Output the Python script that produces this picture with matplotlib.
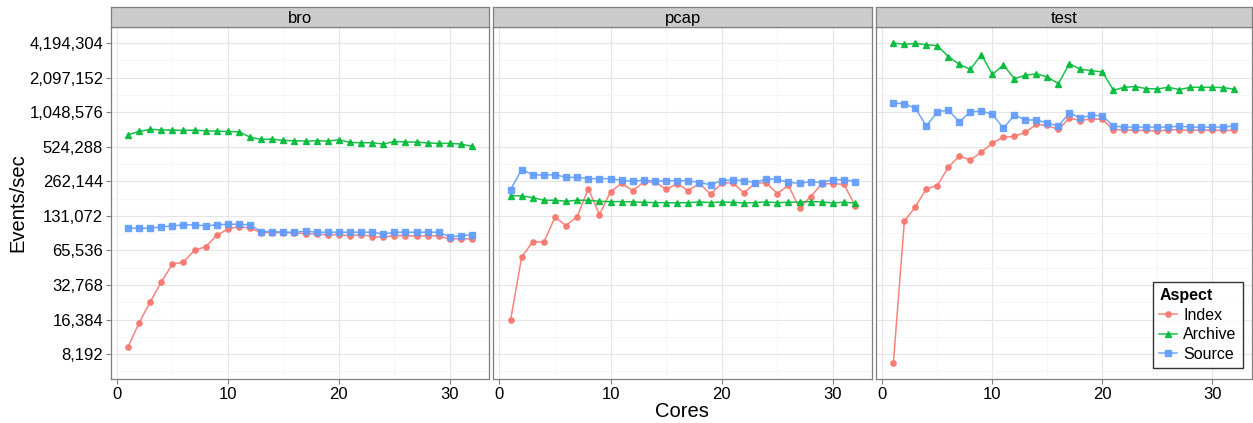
import numpy as np
import matplotlib
matplotlib.use('Agg')
import matplotlib.pyplot as plt
from matplotlib.ticker import FixedLocator, FuncFormatter, NullFormatter

plt.rcParams['font.family'] = ['Liberation Sans', 'DejaVu Sans']

# data (events/sec per core count)
cores = list(range(1, 33))
panels = ['bro', 'pcap', 'test']
aspects = ['Index', 'Archive', 'Source']
colors = ['#F8766D', '#00BA38', '#619CFF']
markers = ['o', '^', 's']

bro_index = [9450, 15300, 23300, 34700, 49800, 51800, 65900, 70500, 89000, 100400, 105900, 102400,
             93900, 93900, 93900, 92700, 92100, 90900, 89600, 90200, 87800, 90200, 86600, 85400,
             88400, 88400, 87300, 87800, 87800, 82200, 83300, 82200]
bro_archive = [666000, 712000, 741000, 736000, 731000, 727000, 731000, 722000, 717000, 712000, 707000, 636000,
               607000, 611000, 595000, 591000, 587000, 591000, 587000, 603000, 572000, 568000, 568000, 553000,
               583000, 576000, 576000, 565000, 561000, 561000, 553000, 528000]
bro_source = [102400, 102400, 102400, 105100, 107300, 109500, 109500, 107300, 109500, 110900, 110900, 109500,
              95800, 95800, 94500, 94500, 96500, 94500, 94500, 94500, 94500, 94500, 94500, 90900,
              94500, 94500, 94500, 94500, 94500, 86100, 87800, 90200]

pcap_index = [16150, 57200, 78300, 77300, 127600, 108000, 129300, 226400, 134500, 213100, 251900, 217600,
              258700, 258700, 223300, 250300, 217600, 251900, 202100, 251900, 255300, 207600, 251900, 255300,
              204700, 242000, 152600, 193000, 248500, 250300, 247000, 161000]
pcap_archive = [196800, 195500, 189000, 179400, 179400, 175700, 179400, 179400, 175700, 174500, 174500, 173400,
                172200, 171000, 171000, 169900, 171000, 173400, 171000, 173400, 172200, 169900, 171000, 173400,
                171000, 172200, 173400, 174500, 173400, 169900, 172200, 169900]
pcap_source = [221800, 331000, 299600, 295700, 299600, 284000, 284000, 276600, 276600, 276600, 267400, 262100,
               269300, 262100, 265600, 265600, 265600, 255300, 245300, 265600, 269300, 265600, 255300, 274800,
               272900, 256900, 251900, 260400, 255300, 271000, 271000, 260400]

test_index = [6870, 117800, 156900, 226000, 241000, 349000, 435000, 401000, 471000, 564000, 636000, 644000,
              702000, 819000, 803000, 741000, 930000, 887000, 917000, 906000, 736000, 736000, 727000, 727000,
              717000, 736000, 736000, 727000, 736000, 727000, 727000, 727000]
test_archive = [4194000, 4083000, 4166000, 4056000, 3976000, 3193000, 2735000, 2475000, 3322000, 2239000, 2700000, 2053000,
                2197000, 2257000, 2123000, 1857000, 2773000, 2475000, 2411000, 2348000, 1627000, 1727000, 1751000, 1681000,
                1671000, 1727000, 1648000, 1727000, 1727000, 1727000, 1715000, 1659000]
test_source = [1264000, 1239000, 1136000, 793000, 1056000, 1092000, 864000, 1056000, 1070000, 1008000, 761000, 988000,
               900000, 894000, 847000, 793000, 1035000, 930000, 988000, 974000, 793000, 777000, 777000, 777000,
               777000, 777000, 793000, 777000, 777000, 777000, 777000, 798000]

series = {
    'bro': [bro_index, bro_archive, bro_source],
    'pcap': [pcap_index, pcap_archive, pcap_source],
    'test': [test_index, test_archive, test_source],
}

y_ticks = [2 ** k for k in range(13, 23)]
y_minor = [2 ** (k + 0.5) for k in range(12, 23)]

W, H = 1253, 423
fig = plt.figure(figsize=(W / 100, H / 100), dpi=100)

lefts = [110.7, 493.3, 876.3]
rights = [489.3, 872.3, 1251.5]
top, bottom = 27, 379
border = '#7f7f7f'

axes = []
for i, name in enumerate(panels):
    x0 = lefts[i] / W
    w = (rights[i] - lefts[i]) / W
    ax = fig.add_axes([x0, (H - bottom) / H, w, (bottom - top) / H])
    ax.set_yscale('log', base=2)
    ax.set_xlim(-0.55, 33.55)
    ax.set_ylim(2 ** 12.283, 2 ** 22.463)

    ax.yaxis.set_major_locator(FixedLocator(y_ticks))
    ax.yaxis.set_minor_locator(FixedLocator(y_minor))
    ax.yaxis.set_minor_formatter(NullFormatter())
    ax.xaxis.set_major_locator(FixedLocator([0, 10, 20, 30]))
    ax.xaxis.set_minor_locator(FixedLocator([5, 15, 25]))
    ax.grid(which='major', color='#e5e5e5', lw=0.8)
    ax.grid(which='minor', color='#f6f6f6', lw=0.7)
    ax.set_axisbelow(True)

    for s in ax.spines.values():
        s.set_color(border)
        s.set_linewidth(0.9)

    ax.tick_params(which='major', length=3.5, width=0.8, color=border, labelsize=12, pad=2)
    ax.tick_params(which='minor', length=0)
    if i == 0:
        ax.yaxis.set_major_formatter(FuncFormatter(lambda v, p: f'{int(round(v)):,}'))
    else:
        ax.tick_params(axis='y', which='both', left=False, labelleft=False)

    for j, asp in enumerate(aspects):
        ax.plot(cores, series[name][j], color=colors[j], lw=1.1, alpha=0.9,
                marker=markers[j], markersize=3.8, label=asp)

    # facet strip
    sax = fig.add_axes([x0, (H - top) / H, w, 19.5 / H])
    sax.set_facecolor('#cccccc')
    sax.set_xticks([])
    sax.set_yticks([])
    for s in sax.spines.values():
        s.set_color(border)
        s.set_linewidth(0.9)
    sax.text(0.5, 0.45, name, ha='center', va='center', fontsize=12, transform=sax.transAxes)
    axes.append(ax)

fig.text(18 / W, 1 - 203 / H, 'Events/sec', rotation=90, ha='center', va='center', fontsize=14.5)
fig.text(682 / W, 1 - 411 / H, 'Cores', ha='center', va='center', fontsize=14.5)

handles, labels = axes[2].get_legend_handles_labels()
leg = fig.legend(handles, labels, title='Aspect', loc='lower right',
                 bbox_to_anchor=(1243 / W, (H - 368) / H), borderaxespad=0, fontsize=11.5,
                 title_fontproperties={'weight': 'bold', 'size': 11.5},
                 frameon=True, fancybox=False, handlelength=1.1, handletextpad=0.4,
                 borderpad=0.4, labelspacing=0.28, alignment='left')
leg.get_frame().set_edgecolor('black')
leg.get_frame().set_linewidth(1.0)

fig.savefig('out.png', dpi=100)
